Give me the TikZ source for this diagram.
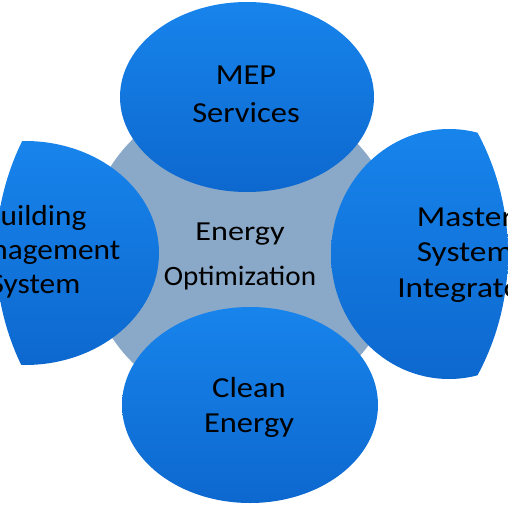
\documentclass[tikz,border=0pt]{standalone}
\usepackage{fontspec}
\setmainfont{Carlito}
\definecolor{blueTop}{HTML}{1784EC}
\definecolor{blueBot}{HTML}{0D68CE}
\definecolor{hub}{HTML}{8AA9C9}
\newcommand{\stk}[2]{\scalebox{#1}[1]{\begin{tabular}[t]{@{}c@{}}#2\end{tabular}}}
\begin{document}
\begin{tikzpicture}[x=1pt,y=-1pt,
  petal/.style={top color=blueTop,bottom color=blueBot},
  lbl/.style={inner sep=0pt,anchor=base,text=black}]
\useasboundingbox (0,0) rectangle (508,508);
\begin{scope}
\clip (252,254) circle (256);
\fill[hub] (243,251) circle (157);
\path[petal] (247,97) ellipse (127 and 95);
\path[petal] (250,405) ellipse (128 and 98);
\path[petal] (25,253) ellipse (134 and 112);
\path[petal] (449,254) ellipse (118 and 125);
\end{scope}
\node[lbl,font=\fontsize{29}{37}\selectfont] (mep) at (246,85) {\stk{1.12}{MEP\\Services}};
\node[lbl,font=\fontsize{29}{35}\selectfont] (clean) at (249,397) {\stk{1.12}{Clean\\Energy}};
\node[lbl,font=\fontsize{29}{34}\selectfont] (bms) at (35,225) {\stk{1.08}{Building\\Management\\System}};
\node[lbl,font=\fontsize{29}{35.5}\selectfont] (msi) at (465,226) {\stk{1.15}{Master\\System\\Integrator}};
\node[lbl,font=\fontsize{27.5}{34}\selectfont] (eo1) at (240,240) {\scalebox{1.17}[1]{Energy}};
\node[lbl,font=\fontsize{28}{34}\selectfont] (eo2) at (240,285) {\scalebox{1.04}[1]{Optimization}};
\end{tikzpicture}
\end{document}
